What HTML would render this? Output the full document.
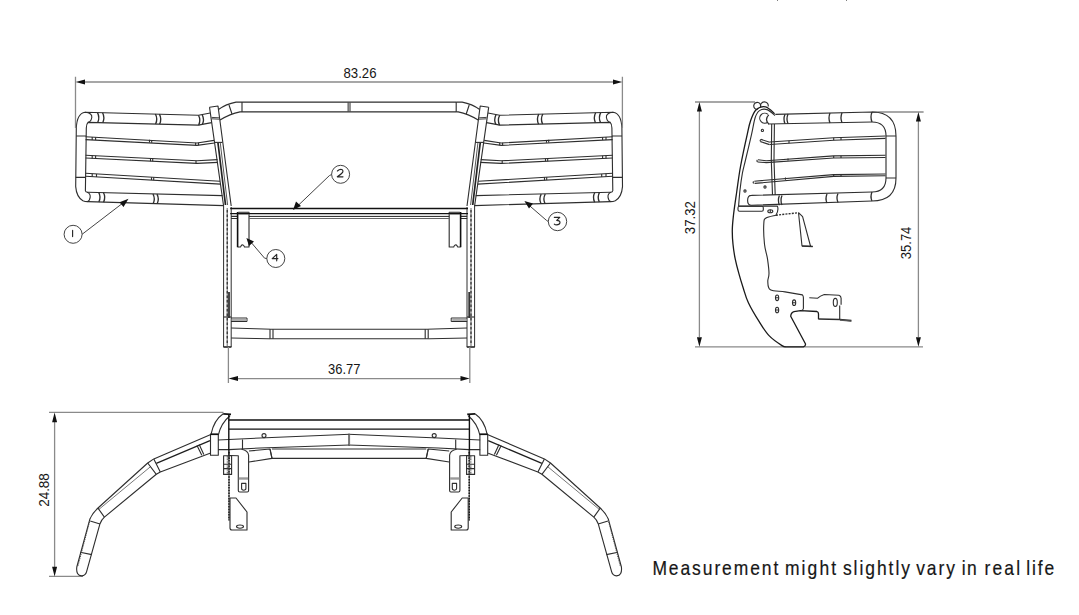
<!DOCTYPE html>
<html><head><meta charset="utf-8">
<style>
html,body{margin:0;padding:0;background:#fff;width:1079px;height:615px;overflow:hidden}
svg{position:absolute;left:0;top:0;display:block}
.t{font-family:"Liberation Sans",sans-serif;fill:#161616}
</style></head>
<body>
<svg width="1079" height="615" viewBox="0 0 1079 615">
<defs>
  <g id="halfFront" fill="none" stroke="#2e2e2e" stroke-width="1.12" stroke-linejoin="round">
    <!-- guard outer tube -->
    <path d="M210.2,113 L198.5,115.2 L85,112.3 Q77,113.5 76.3,128 L75.7,186.6 Q76.5,197 82.9,200.7 Q85,201.6 87.6,201.6 L224,205.6"/>
    <path d="M211.7,122.6 L202.2,124.4 L198.5,125.1 L88,122.4 Q86.4,124 86.3,128 L85.4,190.7 Q85.6,192.2 87.6,192.2 L222.5,195.6"/>
    <!-- tube end caps -->
    <path d="M85,112.3 Q92.5,113 91.8,117.5 Q91,121.8 88,122.4"/>
    <path d="M87,192.2 Q90.5,193.2 90.2,197.2 Q89.6,201 87.6,201.6"/>
    <!-- bend lines across vertical tube -->
    <path d="M76.2,136 L86.2,136 M75.7,177.4 L85.4,177.4"/>
    <!-- rings top tube -->
    <path d="M97.5,112.6 Q100,117.5 97.7,122.6 M102.6,112.7 Q105,117.5 102.8,122.7" stroke-width="1.35"/>
    <path d="M155.4,114 Q158,119 155.6,124 M159.4,114.1 Q162,119 159.6,124.1" stroke-width="1.35"/>
    <path d="M198.5,115.2 Q201,120 198.7,125.1 M202.2,114.7 Q204.6,119.5 202.4,124.4" stroke-width="1.35"/>
    <!-- rings bottom tube -->
    <path d="M98.7,192.4 Q101.2,197 98.9,202 M103.4,192.5 Q105.9,197 103.6,202.2" stroke-width="1.35"/>
    <path d="M153,194 Q155.5,199 153.2,203.6 M157,194.1 Q159.5,199 157.2,203.7" stroke-width="1.35"/>
    <!-- rungs -->
    <path d="M85.6,136.8 L197,143 L214,140.4 M85.6,139.6 L197,145.4 L214.5,143"/>
    <path d="M85.6,155.2 L197,160.8 L217.5,159.6 M85.6,158 L197,163.4 L218,162.4"/>
    <path d="M85.6,173.3 L220,181.3 M85.6,176.3 L220.5,184.1"/>
    <path d="M92.2,137.1 L92.2,140 M95.6,137.3 L95.6,140.1 M149.5,139.8 L149.5,142.6 M151.7,139.9 L151.7,142.7 M195.6,142.8 L195.6,145.4 M198.5,142.8 L198.5,145.3"/>
    <path d="M92.2,155.6 L92.2,158.4 M95.6,155.7 L95.6,158.6 M150.5,158.5 L150.5,161.2 M152.7,158.6 L152.7,161.3 M196,160.8 L196,163.4"/>
    <path d="M92.2,173.7 L92.2,176.7 M96.5,174 L96.5,177 M151.5,177.2 L151.5,180.1 M153.7,177.3 L153.7,180.2"/>
    <!-- left post (slanted) -->
    <path d="M209.5,107.2 L218,106 L231.2,206 M209.5,107.2 L223.6,206"/>
    <path d="M214.2,142.4 L222.4,142.4"/>
    <path d="M211.6,117.4 L219.1,117.8 M211.8,118.8 L219.2,119.2" stroke-width="0.9"/>
    <path d="M218,143 L225.5,205" stroke-width="1.7" stroke="#222"/>
    <path d="M220.3,143 L227.6,205" stroke-width="0.8"/>
    <!-- center top tube -->
    <path d="M218.5,109.5 Q226,104 236,102.1 L242,102.1"/>
    <path d="M220,120 Q230,114 240,111.9 L242,111.9"/>
    <path d="M229,105 L232,114 M242,102.1 L242,111.9"/>
    <path d="M348.2,102.4 L348.2,111.6" stroke="#777" stroke-width="1.6"/>
    <!-- posts vertical -->
    <path d="M223.6,206 L223.6,347 M231.2,207 L231.2,347" stroke-width="1"/>
    <path d="M223.4,347 L231.4,347" stroke-width="1.6" stroke="#222"/>
    <path d="M227.2,208 L227.2,347" stroke="#555" stroke-width="0.9"/>
    <path d="M227.2,210 L227.2,345" stroke="#222" stroke-dasharray="2.5,2" stroke-width="1.1"/>
    <path d="M229,292 L229,318" stroke-width="1.8" stroke="#333"/>
    <path d="M223.6,317 L231.2,317"/>
    <!-- small bracket -->
    <path d="M231,318 L247,318 L247,321.5 L231,321.5" stroke-width="1"/>
    <path d="M232,320 L246,320" stroke="#777" stroke-width="1.2"/>
    <!-- crossbar -->
    
    
    
    
    <path d="M231,216.4 L237.5,216.4 M231,218.5 L237.5,218.5"/>
    <!-- bracket 4 -->
    <path d="M238.3,212.4 L249,212.4 L249,247 L244.5,247 Q243.3,244.2 241.8,245 Q240.8,246 240.6,247 L237.6,247"/>
    <path d="M238.5,213.6 L248.8,213.6" stroke="#999" stroke-width="2"/>
    <path d="M237.6,212 L237.6,247.2" stroke-width="1.6" stroke="#111"/>
    <!-- lower tube -->
    <path d="M231.2,328 L270,329.2 M231.2,338 L270,338.8" stroke-width="1"/>
    <path d="M270,329.2 L270,338.8 M273,329.2 L273,338.8"/>
  </g>

  <g id="halfTop" stroke="#2e2e2e" stroke-width="1.12" fill="none" stroke-linejoin="round">
    <!-- arm -->
    <path d="M210.8,434.5 L153.8,458.9 L147.7,463 L98,508 Q92,513.5 89.8,519.3 L76.8,567 Q75.8,575.5 81.7,575.9 Q85.6,575.5 86.6,571.6 L100,523.7 Q101.6,519.5 104.4,517.1 L156.3,474.3 L160.3,471.9 L210,453.2"/>
    <path d="M210,440.6 L156.3,463.4" stroke-width="1.25" stroke="#1e1e1e"/>
    <path d="M150.6,466.6 L99,509.3" stroke-width="0.8" stroke="#555"/>
    <path d="M153.8,458.9 L160.3,471.9 M147.7,463 L156.3,474.3 M197,445.5 L201.8,455.2 M199.2,444.6 L203.8,454.4 M98,508.2 L104.4,517.1 M90.2,521 L100,524 M80.2,552.2 L91.8,554.6"/>
    <path d="M89.5,522 L78,566" stroke-width="0.9" stroke="#444" stroke-dasharray="1.2,1"/>
    <!-- end cap -->
    <path d="M211,434.3 Q214,420 223.2,413.8"/>
    <path d="M223.2,413.8 L231,414.3" stroke-width="1.7" stroke="#111"/>
    <path d="M218.3,435.2 Q221,423 230,415.7"/>
    <rect x="210.5" y="434.3" width="7.8" height="20.9"/>
    <path d="M210.5,434.3 L218.3,434.3" stroke-width="1.6" stroke="#111"/>
    <path d="M242.5,439.5 L242.5,449"/>
    <!-- plate -->
    
    
    <path d="M218,440 L260,438 L350,434.2 M218,449.6 L229,449.6 L260,448 L350,445"/>
    <path d="M348.8,434.4 L348.8,445" stroke="#777" stroke-width="1.4"/>
    
    <path d="M249,451 L270,449 L272,458.4 L249,462"/>
    <path d="M270,449 L272,458.4" />
    <circle cx="264" cy="435.6" r="2"/>
    <path d="M228.8,414.5 L228.8,459" stroke-width="1.4" stroke="#111"/>
    <!-- bracket -->
    <path d="M229.5,455.5 L238.3,455.7 L238.3,490.5 Q238.3,492 239.8,492 L247.2,492 Q248.6,492 248.6,490.5 L248.6,455.2 Q248.2,450.5 241.5,449.2"/>
    <path d="M238.8,478.5 L248.1,478.5" stroke="#9a9a9a" stroke-width="2.4"/>
    <path d="M241.6,483.4 L241.6,488.6 Q241.6,490.2 243.7,490.2 Q245.9,490.2 245.9,488.6 L245.9,483.4 Z"/>
    <path d="M229,450 L229,521" stroke="#444" stroke-width="1"/>
    <path d="M229,452 L229,520" stroke-dasharray="1.5,1.2" stroke-width="1.4" stroke="#111"/>
    <rect x="223.6" y="455.7" width="8" height="18.7"/>
    <path d="M223.6,464.2 L231.6,464.2 M223.6,468.6 L231.6,468.6"/>
    <path d="M228,456 L228,474" stroke="#555" stroke-width="2.6" stroke-dasharray="0.8,0.8"/>
    <!-- lower plate -->
    <path d="M230,498 L236,498 L247,512 L247,530 L232,530 Q230,530 230,528 Z"/>
    <ellipse cx="240" cy="526.6" rx="3.5" ry="1.6"/>
  </g>
</defs>

<!-- ============ FRONT VIEW ============ -->
<use href="#halfFront"/>
<use href="#halfFront" transform="translate(698.2,0) scale(-1,1)"/>

<g fill="none" stroke-linejoin="round">
  <path d="M242,102.1 L456.2,102.1 M242,111.9 L456.2,111.9" stroke="#2e2e2e" stroke-width="1.12"/>
  <path d="M230.2,208.5 L468,208.5" stroke-width="1.5" stroke="#111"/>
  <path d="M230.2,213.6 L468,213.6" stroke-width="1.2" stroke="#111"/>
  <path d="M249,216.4 L449.2,216.4" stroke-width="1" stroke="#222"/>
  <path d="M249,218.5 L449.2,218.5" stroke-width="1" stroke="#666"/>
  <path d="M270,329.2 L428.2,329.2 M270,338.8 L428.2,338.8" stroke="#2e2e2e" stroke-width="1.12"/>
</g>
<!-- dimension 83.26 -->
<g stroke="#8a8a8a" stroke-width="1.3" fill="none">
  <path d="M75.5,76.7 L75.5,128 M622.4,76.7 L622.4,128"/>
  <path d="M84,82 L614,82"/>
</g>
<path d="M75.6,82 L85,79.5 L85,84.5 Z M622.3,82 L613,79.5 L613,84.5 Z" fill="#111"/>
<text class="t" x="360" y="78" font-size="14.6" text-anchor="middle" textLength="33" lengthAdjust="spacingAndGlyphs">83.26</text>

<!-- dimension 36.77 -->
<g stroke="#8a8a8a" stroke-width="1.3" fill="none">
  <path d="M228.4,347 L228.4,383 M469.8,347 L469.8,383"/>
  <path d="M237,378.6 L462,378.6"/>
</g>
<path d="M228.5,378.6 L238,376.1 L238,381.1 Z M469.7,378.6 L460.5,376.1 L460.5,381.1 Z" fill="#111"/>
<text class="t" x="344.3" y="374" font-size="14.6" text-anchor="middle" textLength="32.4" lengthAdjust="spacingAndGlyphs">36.77</text>

<!-- balloons -->
<g stroke="#3a3a3a" stroke-width="0.95" fill="none">
  <circle cx="73.1" cy="234.3" r="9"/>
  <path d="M82.1,234.3 L125.5,201"/>
  <circle cx="340.6" cy="174.3" r="9"/>
  <path d="M331.6,174.5 L329.4,175.6 L296,207.5"/>
  <circle cx="557.5" cy="221.5" r="9.2"/>
  <path d="M548.3,221.5 L546.5,220.4 L527,203.5"/>
  <circle cx="275.8" cy="258.5" r="9"/>
  <path d="M266.8,258.5 L264.6,258.2 L249.5,240.5"/>
</g>
<path d="M128.5,198.8 L119.5,202.3 L123.5,207 Z M293,210 L296,201.5 L301,206 Z M524.4,201 L533,203.5 L529,208.5 Z M246.4,238 L254,241.5 L249,246 Z" fill="#111"/>
<g stroke="#262626" stroke-width="1.15" fill="none" stroke-linecap="round" stroke-linejoin="round">
  <path d="M72.6,230.4 L72.6,236.6"/>
  <path d="M337.4,171 Q339.5,169.1 341.6,169.5 Q343.6,170.3 342.6,172.4 Q341.5,174.1 337.3,176.8 L343,176.8"/>
  <path d="M554.3,217.3 L559.8,217.3 L556.7,220.4 Q560.2,220.4 560,222.7 Q559.6,224.9 556.6,224.9 Q555,224.9 554.3,224.2"/>
  <path d="M276.7,260.8 L276.7,254.4 L272.2,258.6 L277.9,258.6"/>
</g>

<!-- ============ SIDE VIEW ============ -->
<g stroke="#8a8a8a" stroke-width="1.3" fill="none">
  <path d="M695,102 L755,102 M872,112 L923.6,112 M695,346.8 L923,346.8"/>
  <path d="M699.4,111 L699.4,337 M918.4,121 L918.4,337"/>
</g>
<g stroke="#2e2e2e" stroke-width="1.12" fill="none" stroke-linejoin="round">
  <!-- knob -->
  <path d="M757.5,109.4 A3.5,3.5 0 1 1 760.4,107.4 M760.6,106.8 A3.9,3.9 0 1 1 768.2,106.5"/>
  <!-- plate outer -->
  <path d="M774.6,113.7 C773.1,112.5 768.7,107.4 765.6,106.8 C762.5,106.2 758.4,107.6 755.9,110.0 C753.4,112.4 751.9,117.0 750.5,121.0 C749.1,125.0 748.9,126.6 747.3,134.1 C745.6,141.6 742.4,156.3 740.6,166.0 C738.8,175.7 737.9,183.8 736.7,192.0 C735.5,200.2 734.2,208.7 733.5,215.0 C732.8,221.3 732.4,224.7 732.3,229.6 C732.2,234.5 732.5,239.4 733.0,244.3 C733.5,249.2 734.2,254.0 735.2,258.9 C736.2,263.8 737.5,268.7 738.9,273.6 C740.2,278.5 741.7,283.3 743.3,288.2 C744.9,293.1 745.7,297.1 748.4,302.8 C751.1,308.5 756.0,316.7 759.5,322.2 C763.0,327.7 765.5,332.0 769.3,335.9 C773.0,339.8 779.2,343.8 782.0,345.6 C784.8,347.4 785.2,346.6 785.9,346.8 L803.4,346.8 Q806,346 805.4,343.7 L790.7,316.3 Q791,312.5 794,311.6 L800.5,310.7 L817,311.5 Q818.5,312 818.5,314 L818.5,319.3" stroke-width="1.3" stroke="#1a1a1a"/>
  <!-- plate inner -->
  <path d="M775.0,115.5 C773.7,114.5 769.6,110.4 767.0,109.6 C764.4,108.8 761.5,109.3 759.5,110.6 C757.5,111.9 756.5,113.6 755.2,117.5 C753.9,121.4 753.2,127.0 751.6,134.1 C750.0,141.2 747.0,153.5 745.5,160.0 C744.0,166.5 743.3,168.2 742.4,173.2 C741.5,178.2 740.6,184.5 740.0,190.0 C739.4,195.5 738.8,203.4 738.6,206.1"/>
  <path d="M738.6,206.1 L777.4,206.1 Q779,210 775.9,215.2  C774.2,215.7 768.0,216.6 766.0,218.0 C764.0,219.4 764.0,219.4 763.8,223.8 C763.5,228.2 763.9,238.5 764.5,244.3 C765.1,250.2 766.8,254.0 767.5,258.9 C768.2,263.8 769.0,269.8 769.0,273.6 C769.0,277.4 767.6,278.8 767.8,281.5 C768.0,284.2 767.5,288.0 770.4,289.7 C773.3,291.4 779.7,291.0 785.0,291.9 C790.3,292.8 799.5,294.4 802.4,294.9 Q803.4,296 803.4,297.8 L803.4,308.5 Q803,310.3 801.5,310.5"/>
  <path d="M775.9,215.2 L798.5,212.7" stroke-dasharray="2,1.2" stroke-width="1.4"/>
  <path d="M798.5,212.7 L802,246 L812.7,246.5 M798.5,212.7 L802.6,216.7 L810.6,246.5" stroke-width="1.1"/>
  <path d="M802,246 L812.7,246.5" stroke-width="1.7"/>
  <!-- small plate -->
  <rect x="738" y="206.2" width="25.3" height="5" rx="1.5"/>
  <ellipse cx="770.3" cy="211.2" rx="2.5" ry="1.5"/>
  <path d="M770.3,209.8 L770.3,212.6"/>
  <!-- right bracket -->
  <path d="M809.3,297.8 L817.7,298.2 Q820,296 824.3,294.5 L838.9,295.2 Q841.1,296 841.1,298.2 L841.1,304.8 M839.7,305.5 L839.7,319.4"/>
  <path d="M818.5,319 L839.7,319.5 L851.4,320.6" stroke-width="1.6"/>
  <path d="M840,320.2 L851.4,321.2" stroke-width="1.2" stroke="#555"/>
  <!-- holes -->
  <ellipse cx="777.1" cy="297.8" rx="1.6" ry="2.8"/>
  <ellipse cx="777.1" cy="310" rx="1.6" ry="2.8"/>
  <ellipse cx="794.1" cy="302.7" rx="1.6" ry="2.8"/>
  <ellipse cx="835.3" cy="302.4" rx="2" ry="4"/>
  <path d="M775.5,297.8 L778.7,297.8 M775.5,310 L778.7,310 M792.5,302.7 L795.7,302.7"/>
  <circle cx="762.4" cy="130.4" r="1.1"/>
  <circle cx="765" cy="187" r="1.1"/>
  <circle cx="745" cy="191" r="1.1"/>
  <!-- top tube -->
  <path d="M768,114.4 A5,5 0 1 0 768,122"/>
  <path d="M768.8,114.9 Q764.2,119.3 768.8,124" stroke-width="1.3"/>
  <path d="M775.3,114.4 L872,112 Q896,112 896,136 L896,178 Q896,201 872,201 L751.5,205.2 Q747.6,205.2 747.6,200.4 Q747.6,195.4 751.5,195.4 L872,192 Q886,192 886,178 L886,136 Q886,122 872,122 L768,124"/>
  <path d="M886,136 L896,136 M886,178 L896,178"/>
  <!-- rings -->
  <path d="M785,114.2 Q783,119 785,123.8 M788,114.1 Q786,119 788,123.7 M830,113 Q828,118 830,123 M842,112.7 Q840,117.5 842,122.7 M872,112 Q870,117 872,122" stroke-width="1.3"/>
  <path d="M779.4,195.5 Q777.4,200.3 779.4,205.2 M782,195.4 Q780,200.2 782,205.1 M827,194 Q825,198.5 827,203 M838,193.6 Q836,198 838,202.6 M872,192 Q870,196.5 872,201" stroke-width="1.3"/>
  <!-- post line -->
  <path d="M771.7,124 Q770.5,160 772.5,195 M774.4,124 Q773.2,160 775.2,195"/>
  <!-- rungs -->
  <path d="M761,139.4 L769.8,142.2 M760.5,141.6 L769.6,144.6"/>
  <path d="M769.8,142 L833.7,137.8 L885.5,136 M769.8,144.5 L833.7,140.2 L885.5,138.4"/>
  <path d="M758,159.8 L766.2,160.7 L833.7,155.9 L885.5,155.3 M757.8,162 L766.2,162.6 L833.7,158 L885.5,157.5"/>
  <path d="M754.3,181.2 L833.7,174.6 L885.5,174 M754.6,183.4 L833.7,176.4 L885.5,175.8"/>
  <path d="M789,140.7 L789,143.2 M833.7,137.8 L833.7,140.2 M841,137.6 L841,140 M788,158.4 L788,160.6 M833.7,155.9 L833.7,158 M841,155.8 L841,157.9 M785.5,177.5 L785.5,179.8 M833.7,174.6 L833.7,176.4 M841,174.5 L841,176.3"/>
  <path d="M753.6,181.3 Q752.6,182.3 753.8,183.4 M757.4,159.9 Q756.4,160.9 757.6,162 M760.8,139.4 Q759.6,140.3 760.5,141.6"/>
</g>
<text class="t" transform="translate(695.3,217.7) rotate(-90)" font-size="14.6" text-anchor="middle" textLength="32.9" lengthAdjust="spacingAndGlyphs">37.32</text>
<text class="t" transform="translate(910.7,242.9) rotate(-90)" font-size="14.6" text-anchor="middle" textLength="32.5" lengthAdjust="spacingAndGlyphs">35.74</text>
<path d="M699.4,102 L696.9,111.5 L701.9,111.5 Z M699.4,346.8 L696.9,337.3 L701.9,337.3 Z M918.4,112 L915.9,121.5 L920.9,121.5 Z M918.4,346.8 L915.9,337.3 L920.9,337.3 Z" fill="#111"/>

<!-- ============ TOP VIEW ============ -->
<g stroke="#8a8a8a" stroke-width="1.3" fill="none">
  <path d="M49,412.4 L223.5,412.4 M49,576.4 L83,576.4"/>
  <path d="M54.6,422 L54.6,567"/>
</g>
<path d="M54.6,412.6 L52.1,422.2 L57.1,422.2 Z M54.6,576.4 L52.1,566.8 L57.1,566.8 Z" fill="#111"/>
<text class="t" transform="translate(49.2,490) rotate(-90)" font-size="14.6" text-anchor="middle" textLength="33.6" lengthAdjust="spacingAndGlyphs">24.88</text>

<use href="#halfTop"/>
<use href="#halfTop" transform="translate(698.2,0) scale(-1,1)"/>

<g fill="none" stroke-linejoin="round">
  <path d="M228.8,420.1 L469.4,420.1" stroke-width="1.5" stroke="#111"/>
  <path d="M228.8,429.2 L469.4,429.2" stroke-width="1.2" stroke="#111"/>
  <path d="M272,449 L426.2,449 M272,458.4 L426.2,458.4" stroke="#2e2e2e" stroke-width="1.12"/>
</g>
<!-- tiny header marks -->
<path d="M777,0 L778,0 M846,0 L847,0" stroke="#555" stroke-width="1.5"/>

<g class="t" font-size="19.4" stroke="#161616" stroke-width="0.2" transform="scale(0.9,1)">
  <text x="724.89" y="574.9" textLength="139.89" lengthAdjust="spacing">Measurement</text>
  <text x="872.22" y="574.9" textLength="56.78" lengthAdjust="spacing">might</text>
  <text x="936.56" y="574.9" textLength="74.56" lengthAdjust="spacing">slightly</text>
  <text x="1018.00" y="574.9" textLength="43.11" lengthAdjust="spacing">vary</text>
  <text x="1068.67" y="574.9" textLength="16.67" lengthAdjust="spacing">in</text>
  <text x="1093.78" y="574.9" textLength="39.67" lengthAdjust="spacing">real</text>
  <text x="1140.22" y="574.9" textLength="31.11" lengthAdjust="spacing">life</text>
</g>
</svg>
</body></html>
